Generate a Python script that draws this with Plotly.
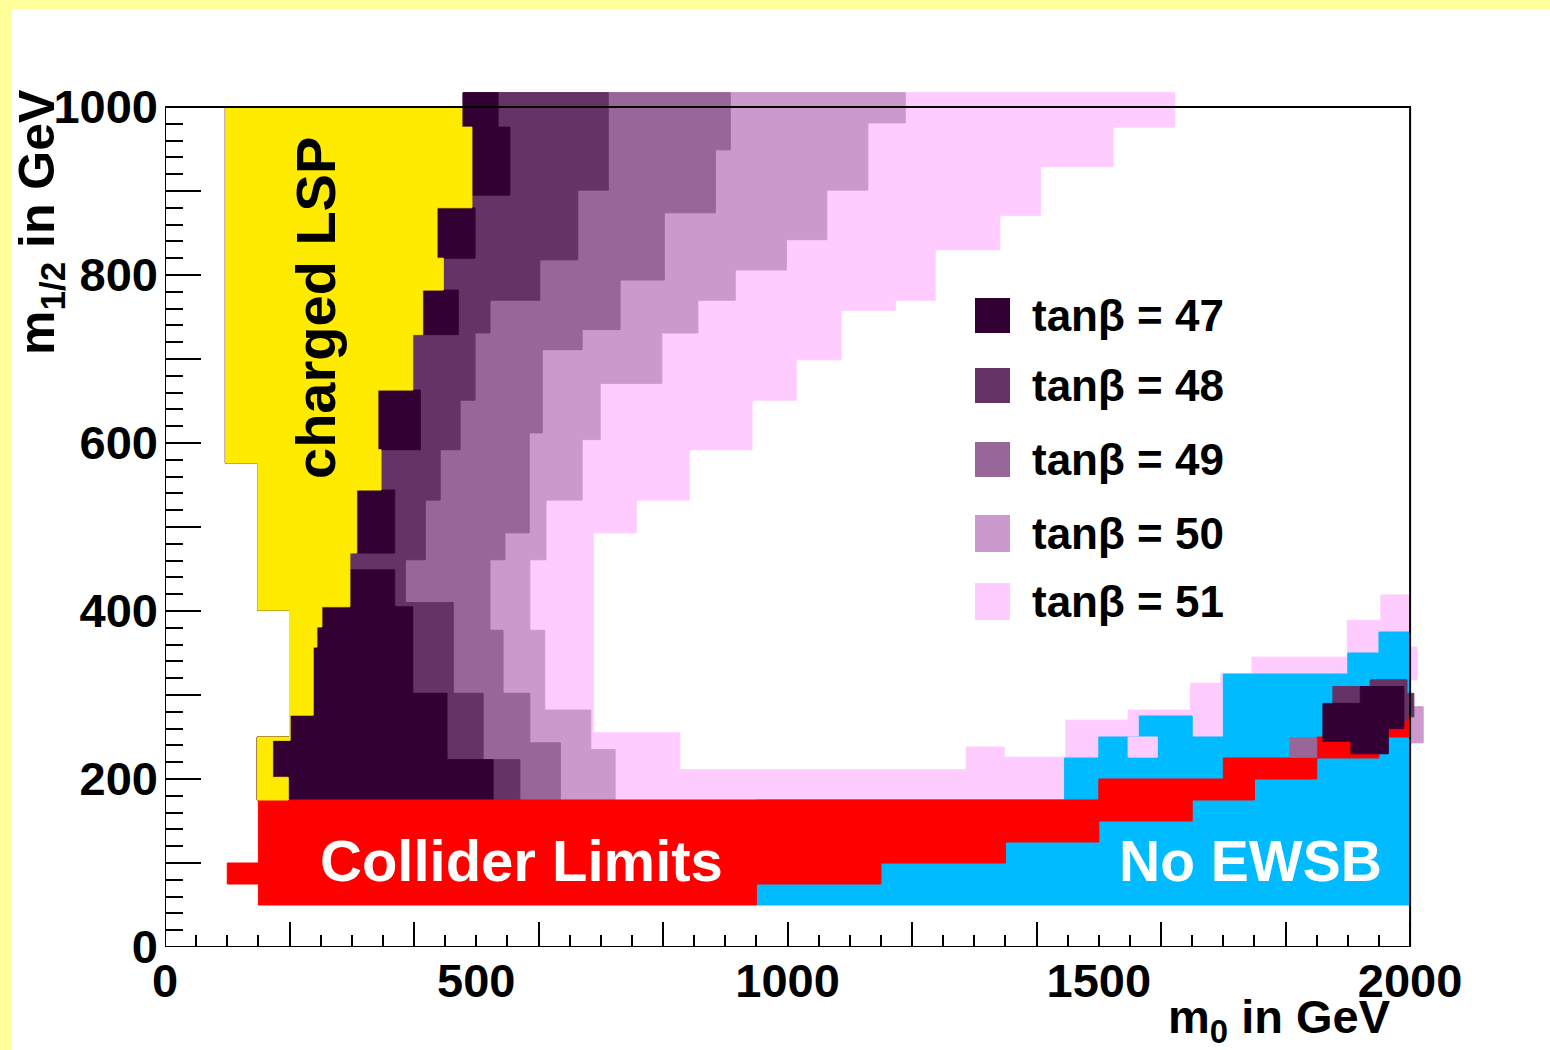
import plotly.graph_objects as go

# ---------------------------------------------------------------------------
# Regions in the (m0, m1/2) plane, vertices in GeV.
# Each tan(beta) band is a closed outline: its right-hand boundary (top to
# bottom) followed by a common closure that runs underneath the charged-LSP
# region on the left.
# ---------------------------------------------------------------------------
LSP_SIDE = [(148, 175), (148, 250), (200, 250), (200, 401), (149, 401),
            (149, 576), (97, 576), (97, 1000), (479, 1000), (479, 1017)]

TB51_EDGE = [(1622, 1017), (1622, 976), (1523, 976), (1523, 929), (1406, 929),
             (1406, 871), (1341, 871), (1341, 830), (1237, 830), (1237, 770),
             (1173, 770), (1173, 758), (1086, 758), (1086, 699), (1014, 699),
             (1014, 651), (943, 651), (943, 592), (842, 592), (842, 532),
             (757, 532), (757, 493), (688, 493), (688, 255), (827, 255),
             (827, 211), (1287, 211), (1287, 238), (1348, 238), (1348, 226),
             (1447, 226), (1447, 270), (1547, 270), (1547, 282), (1647, 282),
             (1647, 314), (1696, 314), (1696, 325), (1746, 325), (1746, 345),
             (1899, 345), (1899, 389), (1953, 389), (1953, 419), (2000, 419),
             (2000, 175)]

TB50_EDGE = [(1189, 1017), (1189, 981), (1129, 981), (1129, 901), (1063, 901),
             (1063, 842), (998, 842), (998, 806), (916, 806), (916, 770),
             (856, 770), (856, 731), (798, 731), (798, 671), (699, 671),
             (699, 604), (670, 604), (670, 532), (612, 532), (612, 461),
             (586, 461), (586, 377), (610, 377), (610, 282), (684, 282),
             (684, 235), (723, 235), (723, 175)]

TB49_EDGE = [(908, 1017), (908, 949), (884, 949), (884, 874), (802, 874),
             (802, 794), (731, 794), (731, 735), (670, 735), (670, 711),
             (606, 711), (606, 612), (585, 612), (585, 493), (546, 493),
             (546, 461), (522, 461), (522, 377), (543, 377), (543, 302),
             (586, 302), (586, 243), (635, 243), (635, 175)]

TB48_EDGE = [(712, 1017), (712, 901), (663, 901), (663, 818), (602, 818),
             (602, 770), (522, 770), (522, 731), (498, 731), (498, 651),
             (474, 651), (474, 592), (442, 592), (442, 532), (418, 532),
             (418, 461), (386, 461), (386, 410), (463, 410), (463, 302),
             (511, 302), (511, 223), (570, 223), (570, 175)]

TB47_EDGE = [(535, 1017), (535, 976), (554, 976), (554, 895), (482, 895),
             (482, 880), (498, 880), (498, 820), (434, 820), (434, 782),
             (471, 782), (471, 729), (386, 729), (386, 663), (410, 663),
             (410, 592), (329, 592), (329, 544), (369, 544), (369, 469),
             (289, 469), (289, 449), (369, 449), (369, 405), (398, 405),
             (398, 302), (453, 302), (453, 223), (527, 223), (527, 175)]

# islands of allowed points at large m0, lying over the excluded areas
TB51_ISLANDS = [[(1547, 226), (1594, 226), (1594, 250), (1547, 250)],
                [(2000, 318), (2011, 318), (2011, 357), (2000, 357)]]
TB50_ISLANDS = [[(2000, 243), (2021, 243), (2021, 286), (2000, 286)]]
TB49_ISLANDS = [[(1807, 226), (1850, 226), (1850, 249), (1807, 249)]]
TB48_ISLANDS = [[(1876, 270), (1876, 310), (1936, 310), (1936, 318),
                 (1995, 318), (1995, 302), (2006, 302), (2006, 274),
                 (1995, 274), (1995, 270)]]
TB47_ISLANDS = [[(1860, 245), (1860, 290), (1920, 290), (1920, 310),
                 (1990, 310), (1990, 260), (1965, 260), (1965, 230),
                 (1905, 230), (1905, 245)]]

# excluded regions
CHARGED_LSP = [(97, 1000), (477, 1000), (477, 976), (493, 976), (493, 880),
               (437, 880), (437, 820), (447, 820), (447, 782), (414, 782),
               (414, 729), (398, 729), (398, 663), (342, 663), (342, 592),
               (347, 592), (347, 544), (308, 544), (308, 469), (297, 469),
               (297, 405), (252, 405), (252, 381), (244, 381), (244, 357),
               (238, 357), (238, 276), (201, 276), (201, 246), (173, 246),
               (173, 202), (198, 202), (198, 175), (148, 175), (148, 250),
               (200, 250), (200, 401), (149, 401), (149, 576), (97, 576)]

COLLIDER_LIMITS = [(150, 50), (950, 50), (950, 75), (1150, 75), (1150, 100),
                   (1350, 100), (1350, 125), (1500, 125), (1500, 150),
                   (1650, 150), (1650, 175), (1750, 175), (1750, 200),
                   (1850, 200), (1850, 225), (1950, 225), (1950, 250),
                   (2000, 250), (2000, 275), (1950, 275), (1950, 250),
                   (1850, 250), (1850, 225), (1700, 225), (1700, 200),
                   (1500, 200), (1500, 175), (150, 175), (150, 100),
                   (100, 100), (100, 75), (150, 75)]

NO_EWSB = [(950, 50), (2000, 50), (2000, 375), (1950, 375), (1950, 350),
           (1900, 350), (1900, 325), (1700, 325), (1700, 250), (1650, 250),
           (1650, 275), (1565, 275), (1565, 250), (1500, 250), (1500, 225),
           (1445, 225), (1445, 175), (950, 175)]

TANB_VALUES = [47, 48, 49, 50, 51]
TANB_COLORS = ["#330033", "#663366", "#996699", "#CC99CC", "#FFCCFF"]
TANB_EDGES = [TB47_EDGE, TB48_EDGE, TB49_EDGE, TB50_EDGE, TB51_EDGE]
TANB_ISLANDS = [TB47_ISLANDS, TB48_ISLANDS, TB49_ISLANDS, TB50_ISLANDS,
                TB51_ISLANDS]

LSP_COLOR = "#FFEB00"
COLLIDER_COLOR = "#FF0000"
EWSB_COLOR = "#00BBFF"

X_LONG_TICKS = list(range(0, 2001, 200))
X_LABELS = [0, 500, 1000, 1500, 2000]
Y_LABELS = list(range(0, 1001, 200))
Y_LONG_TICKS = list(range(100, 1000, 200))

# ---------------------------------------------------------------------------
W, H = 1550, 1050
ML, MR, MT, MB = 165, 115, 91, 103
PW, PH = W - ML - MR, H - MT - MB
FONT = "Liberation Sans"
X_RANGE = [0, 2040]
Y_RANGE = [0, 1019]


def px(x):
    return (x - ML) / PW


def py(y):
    return (H - MB - y) / PH


def region(points, color):
    xs = [p[0] for p in points] + [points[0][0]]
    ys = [p[1] for p in points] + [points[0][1]]
    return go.Scatter(x=xs, y=ys, mode="lines", fill="toself",
                      fillcolor=color, line=dict(color=color, width=1),
                      hoverinfo="skip", showlegend=False)


fig = go.Figure()

# bands, outermost (tan beta = 51) first
for edge, color in zip(TANB_EDGES[::-1], TANB_COLORS[::-1]):
    fig.add_trace(region([(479, 1017)] + edge + LSP_SIDE, color))

fig.add_trace(region(NO_EWSB, EWSB_COLOR))
fig.add_trace(region(COLLIDER_LIMITS, COLLIDER_COLOR))

for islands, color in zip(TANB_ISLANDS[::-1], TANB_COLORS[::-1]):
    for isl in islands:
        fig.add_trace(region(isl, color))

fig.add_trace(region(CHARGED_LSP, LSP_COLOR))

# carriers for the overlaid tick axes
fig.add_trace(go.Scatter(x=[0, 2000], y=[0, 0], xaxis="x2", yaxis="y",
                         mode="markers", marker=dict(opacity=0),
                         hoverinfo="skip", showlegend=False))
fig.add_trace(go.Scatter(x=[0, 0], y=[0, 1000], xaxis="x", yaxis="y2",
                         mode="markers", marker=dict(opacity=0),
                         hoverinfo="skip", showlegend=False))

tick_font = dict(family=FONT, size=47, color="black", weight="bold")
tick_style = dict(ticks="inside", tickwidth=2, tickcolor="black")

fig.update_layout(
    width=W, height=H,
    margin=dict(l=ML, r=MR, t=MT, b=MB, pad=0),
    paper_bgcolor="#FFFF99",
    plot_bgcolor="rgba(0,0,0,0)",
    showlegend=False,
    # labelled x axis: 0, 500, ... with short ticks every 50
    xaxis=dict(range=X_RANGE, showgrid=False, zeroline=False,
               showline=False, tickmode="array", tickvals=X_LABELS,
               ticktext=[str(v) for v in X_LABELS], ticklen=12,
               tickfont=tick_font, ticklabelstandoff=2, **tick_style,
               minor=dict(dtick=50, tick0=0, ticklen=12, **tick_style)),
    # long x ticks every 200
    xaxis2=dict(range=X_RANGE, overlaying="x", anchor="y", side="bottom",
                showgrid=False, zeroline=False, showline=False,
                tickmode="array", tickvals=X_LONG_TICKS, ticklen=25,
                showticklabels=False, **tick_style),
    # labelled y axis: long ticks every 200, short every 20
    yaxis=dict(range=Y_RANGE, showgrid=False, zeroline=False,
               showline=False, tickmode="array", tickvals=Y_LABELS,
               ticktext=[str(v) for v in Y_LABELS], ticklen=36,
               tickfont=tick_font, ticklabelstandoff=6, **tick_style,
               minor=dict(dtick=20, tick0=0, ticklen=18, **tick_style)),
    # remaining long y ticks at odd hundreds
    yaxis2=dict(range=Y_RANGE, overlaying="y", anchor="x", side="left",
                showgrid=False, zeroline=False, showline=False,
                tickmode="array", tickvals=Y_LONG_TICKS, ticklen=36,
                showticklabels=False, **tick_style),
)

shapes = [
    # white canvas inside the page border
    dict(type="rect", xref="paper", yref="paper", layer="below",
         x0=px(12), x1=px(1550), y0=py(1050), y1=py(9),
         fillcolor="white", line=dict(width=0)),
    # frame
    dict(type="rect", xref="x", yref="y", layer="above",
         x0=0, x1=2000, y0=0, y1=1000,
         line=dict(color="black", width=2), fillcolor="rgba(0,0,0,0)"),
]

# legend swatches
LEG_Y = [(298, 333), (368, 403), (442, 477), (515, 552), (583, 620)]
for (y0, y1), color in zip(LEG_Y, TANB_COLORS):
    shapes.append(dict(type="rect", xref="paper", yref="paper", layer="above",
                       x0=px(975), x1=px(1010), y0=py(y1), y1=py(y0),
                       fillcolor=color, line=dict(width=0)))


def label(text, x, y, size, color="black", angle=0, xanchor="center"):
    return dict(text=text, textangle=angle, x=px(x), y=py(y),
                xanchor=xanchor, yanchor="middle", xref="paper",
                yref="paper", showarrow=False,
                font=dict(family=FONT, size=size, color=color,
                          weight="bold"))


annotations = [
    label("m<sub>1/2</sub> in GeV", 40, 222, 50, angle=-90),
    label("m<sub>0</sub> in GeV", 1393, 1020, 47, xanchor="right"),
    label("charged LSP", 315, 308, 56, angle=-90),
    label("Collider Limits", 521, 860, 58, color="white"),
    label("No EWSB", 1250, 861, 57, color="white"),
]
for (y0, y1), tb in zip(LEG_Y, TANB_VALUES):
    annotations.append(label(f"tanβ = {tb}", 1030, (y0 + y1) / 2, 44,
                             xanchor="left"))

fig.update_layout(shapes=shapes, annotations=annotations)
fig.write_html("out.html")
